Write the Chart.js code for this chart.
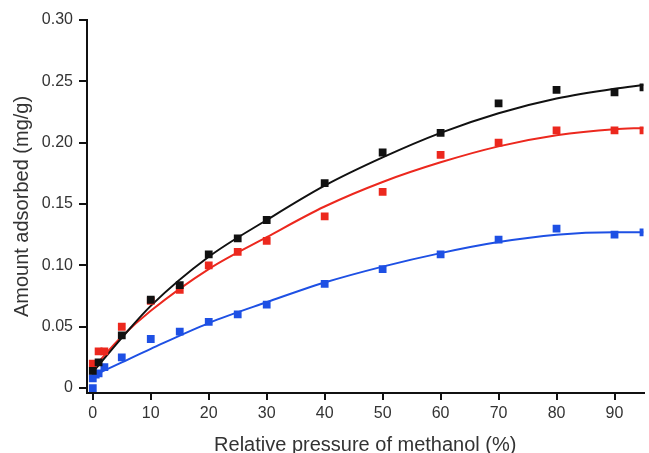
<!DOCTYPE html>
<html>
<head>
<meta charset="utf-8">
<script src="https://cdn.jsdelivr.net/npm/chart.js@4/dist/chart.umd.min.js"></script>
<style>
  html, body { margin: 0; padding: 0; background: #fff; }
</style>
</head>
<body>
<canvas id="myChart" width="649" height="453"></canvas>
<script>
// measured points (relative pressure %, amount mg/g)
const blackX = [0, 1, 5, 10, 15, 20, 25, 30, 40, 50, 60, 70, 80, 90, 95];
const blackY = [0.014, 0.021, 0.043, 0.072, 0.084, 0.109, 0.122, 0.137, 0.167, 0.192, 0.208, 0.232, 0.243, 0.241, 0.245];

const redX = [0, 1, 2, 5, 10, 15, 20, 25, 30, 40, 50, 60, 70, 80, 90, 95];
const redY = [0.020, 0.030, 0.030, 0.050, 0.071, 0.080, 0.100, 0.111, 0.120, 0.140, 0.160, 0.190, 0.200, 0.210, 0.210, 0.210];

const blueX = [0, 0, 0.5, 1, 2, 5, 10, 15, 20, 25, 30, 40, 50, 60, 70, 80, 90, 95];
const blueY = [0, 0.008, 0.011, 0.012, 0.017, 0.025, 0.040, 0.046, 0.054, 0.060, 0.068, 0.085, 0.097, 0.109, 0.121, 0.130, 0.125, 0.127];

// fitted curves
const fitX = [0, 5, 10, 20, 30, 40, 50, 60, 70, 80, 90, 95];
const blackFit = [0.013, 0.041, 0.067, 0.107, 0.137, 0.165, 0.188, 0.208, 0.224, 0.236, 0.244, 0.247];
const redFit = [0.016, 0.042, 0.063, 0.097, 0.123, 0.148, 0.168, 0.184, 0.197, 0.206, 0.211, 0.212];
const blueFit = [0.010, 0.021, 0.032, 0.053, 0.070, 0.086, 0.099, 0.110, 0.119, 0.125, 0.127, 0.127];

const xTicks = [0, 10, 20, 30, 40, 50, 60, 70, 80, 90];
const yTicks = [0, 0.05, 0.10, 0.15, 0.20, 0.25, 0.30];

const BLACK = '#111';
const RED = 'rgb(236, 40, 30)';
const BLUE = 'rgb(30, 80, 228)';
const FONT = "'Liberation Sans', Arial, sans-serif";

const toXY = (xs, ys) => xs.map((x, i) => ({ x: x, y: ys[i] }));

const pointSet = (xs, ys, color) => ({
  data: toXY(xs, ys),
  backgroundColor: color,
  borderColor: color,
  pointStyle: 'rect',
  pointRadius: 5.5,
  borderWidth: 0,
  order: 0
});

const curveSet = (ys, color) => ({
  data: toXY(fitX, ys),
  showLine: true,
  borderColor: color,
  borderWidth: 2,
  pointRadius: 0,
  cubicInterpolationMode: 'monotone',
  order: 1
});

const ctx = document.getElementById('myChart').getContext('2d');
new Chart(ctx, {
  type: 'scatter',
  data: {
    datasets: [
      curveSet(blackFit, BLACK),
      curveSet(redFit, RED),
      curveSet(blueFit, BLUE),
      pointSet(blackX, blackY, BLACK),
      pointSet(redX, redY, RED),
      pointSet(blueX, blueY, BLUE)
    ]
  },
  options: {
    responsive: false,
    animation: false,
    layout: { padding: { left: 0, right: 2, top: 20, bottom: 0 } },
    plugins: { legend: { display: false }, tooltip: { enabled: false } },
    scales: {
      x: {
        type: 'linear',
        min: -1,
        max: 95,
        afterFit: (scale) => { scale.height = 60; },
        afterBuildTicks: (scale) => { scale.ticks = xTicks.map(v => ({ value: v })); },
        grid: { drawOnChartArea: false, tickLength: 7, color: BLACK, lineWidth: 2 },
        border: { color: BLACK, width: 2 },
        ticks: { color: '#333', padding: 4, font: { family: FONT, size: 16 } },
        title: {
          display: true,
          text: 'Relative pressure of methanol (%)',
          color: '#333',
          font: { family: FONT, size: 20 },
          padding: { top: 0, bottom: -4 }
        }
      },
      y: {
        type: 'linear',
        min: -0.004,
        max: 0.30,
        afterFit: (scale) => { scale.width = 87; },
        afterBuildTicks: (scale) => { scale.ticks = yTicks.map(v => ({ value: v })); },
        grid: { drawOnChartArea: false, tickLength: 8, color: BLACK, lineWidth: 2 },
        border: { color: BLACK, width: 2 },
        ticks: {
          color: '#333',
          padding: 6,
          font: { family: FONT, size: 16 },
          callback: (v) => v === 0 ? '0' : v.toFixed(2)
        },
        title: {
          display: true,
          text: 'Amount adsorbed (mg/g)',
          color: '#333',
          font: { family: FONT, size: 20 },
          padding: { top: 10, bottom: 0 }
        }
      }
    }
  }
});
</script>
</body>
</html>
